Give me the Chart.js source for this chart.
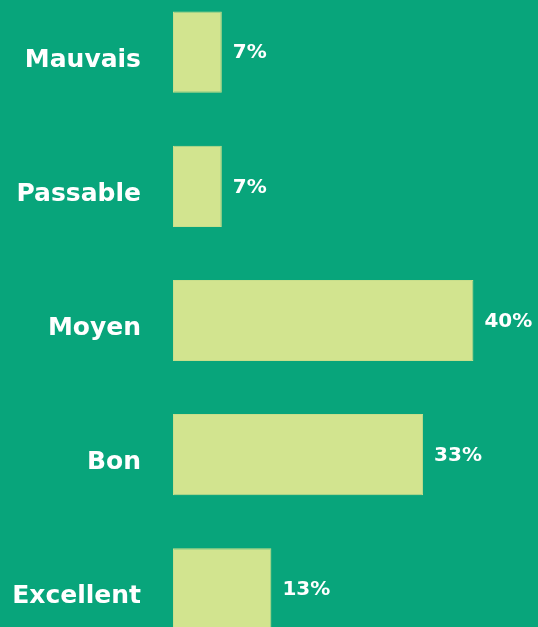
<!DOCTYPE html>
<html>
<head>
<meta charset="utf-8">
<script src="https://cdn.jsdelivr.net/npm/chart.js@4"></script>
<style>
  html, body { margin: 0; padding: 0; background: #08a57b; overflow: hidden; }
  #chart { position: absolute; left: 0; top: -15px; }
</style>
</head>
<body>
<canvas id="chart" width="538" height="671"></canvas>
<script>
// categories and shares (%)
const categories = ["Mauvais", "Passable", "Moyen", "Bon", "Excellent"];
const shares = [6.5, 6.5, 40, 33.3, 13.1];

const FONT = "'DejaVu Sans', Verdana, sans-serif";

// category names on the left (sit a bit below bar centre) and "xx%" next to each bar
const barText = {
    id: "barText",
    afterDatasetsDraw(chart) {
        const ctx = chart.ctx;
        const yScale = chart.scales.y;
        const meta = chart.getDatasetMeta(0);
        ctx.save();
        ctx.fillStyle = "#ffffff";
        ctx.textBaseline = "middle";

        ctx.font = "bold 25px " + FONT;
        ctx.textAlign = "right";
        categories.forEach((name, i) => {
            ctx.fillText(name, yScale.right - 32, yScale.getPixelForValue(i) + 8);
        });

        ctx.font = "bold 20px " + FONT;
        ctx.textAlign = "left";
        meta.data.forEach((bar, i) => {
            ctx.fillText(Math.round(shares[i]) + "%", bar.x + 11, bar.y + 1);
        });
        ctx.restore();
    }
};

new Chart(document.getElementById("chart"), {
    type: "bar",
    data: {
        labels: categories,
        datasets: [{
            data: shares,
            backgroundColor: "#d2e48f",
            borderColor: "#c8de8b",
            borderWidth: 1,
            borderSkipped: false,
            barPercentage: 0.605,
            categoryPercentage: 1
        }]
    },
    options: {
        indexAxis: "y",
        responsive: false,
        animation: false,
        layout: { padding: 0 },
        plugins: {
            legend: { display: false },
            tooltip: { enabled: false }
        },
        scales: {
            x: {
                display: false,
                min: 0,
                max: 48.6
            },
            y: {
                grid: { display: false, drawTicks: false },
                border: { display: false },
                ticks: { display: false },
                afterFit(scale) {
                    scale.width = 173;
                    scale.paddingTop = 0;
                    scale.paddingBottom = 0;
                }
            }
        }
    },
    plugins: [barText]
});
</script>
</body>
</html>
